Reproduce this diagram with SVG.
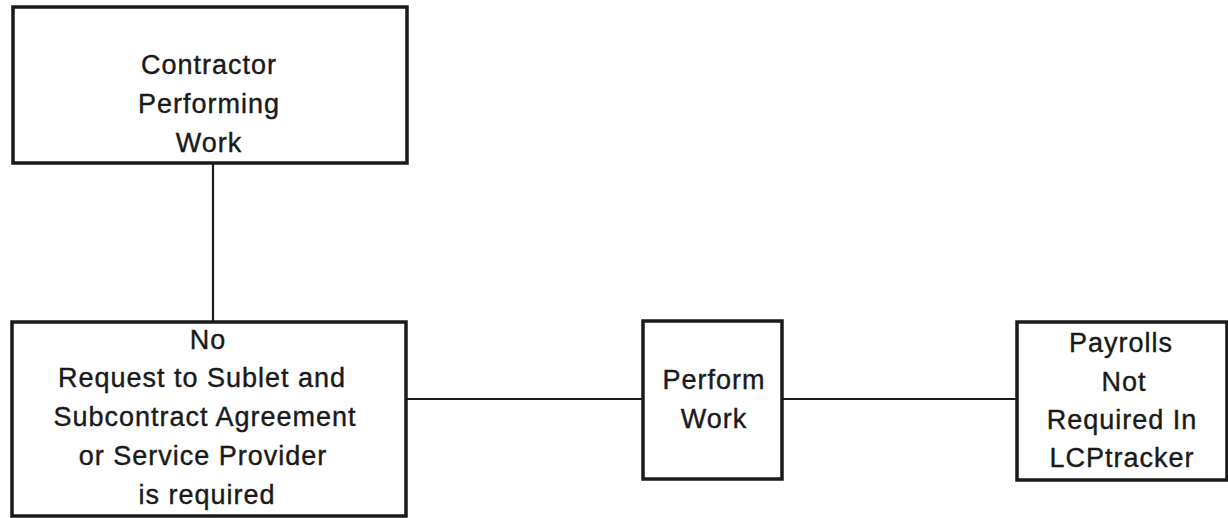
<svg xmlns="http://www.w3.org/2000/svg" width="1228" height="518" viewBox="0 0 1228 518">
<style>
.box{fill:#fff;stroke:#1a1a1a;stroke-width:3.5}
.con{stroke:#1a1a1a;stroke-width:2.2;fill:none}
text{font-family:"Liberation Sans",Arial,sans-serif;font-size:27px;letter-spacing:1px;fill:#1a1a1a;stroke:#1a1a1a;stroke-width:0.4;text-anchor:middle}
</style>
<rect width="1228" height="518" fill="#fff"/>
<g id="connectors">
<line class="con" x1="213" y1="163" x2="213" y2="322"/>
<line class="con" x1="406" y1="399" x2="643" y2="399"/>
<line class="con" x1="782" y1="399" x2="1017" y2="399"/>
</g>
<g id="contractor">
<rect class="box" x="13" y="7" width="394" height="156"/>
<text x="209" y="74">Contractor</text>
<text x="209" y="113">Performing</text>
<text x="209" y="152">Work</text>
</g>
<g id="no-request">
<rect class="box" x="12" y="322" width="394" height="194"/>
<text x="208" y="349">No</text>
<text x="202" y="387">Request to Sublet and</text>
<text x="205" y="426">Subcontract Agreement</text>
<text x="203" y="465">or Service Provider</text>
<text x="207" y="504">is required</text>
</g>
<g id="perform-work">
<rect class="box" x="643" y="321" width="139" height="158"/>
<text x="714" y="389">Perform</text>
<text x="714" y="428">Work</text>
</g>
<g id="payrolls">
<rect class="box" x="1017" y="322" width="210" height="158"/>
<text x="1121" y="352">Payrolls</text>
<text x="1124" y="391">Not</text>
<text x="1122" y="429">Required In</text>
<text x="1122" y="467">LCPtracker</text>
</g>
</svg>
